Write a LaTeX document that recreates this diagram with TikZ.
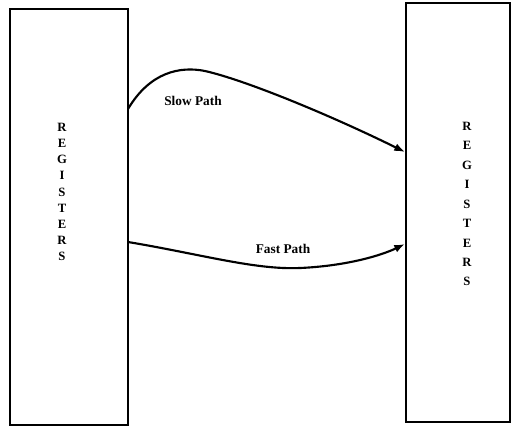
\documentclass[tikz,border=0pt]{standalone}
\usepackage{fontspec}
\setmainfont{Liberation Serif}
\usetikzlibrary{arrows.meta}
\begin{document}
\begin{tikzpicture}[x=0.75pt,y=-0.75pt,
  regbox/.style={draw,line width=1.5pt},
  conn/.style={line width=1.6pt,-{Latex[length=8pt,width=6pt]}},
  lbl/.style={font=\bfseries\fontsize{10}{12}\selectfont,inner sep=0pt},
  vletl/.style={font=\bfseries\fontsize{9.5}{12.1}\selectfont,inner sep=0pt,align=center},
  vletr/.style={font=\bfseries\fontsize{9.5}{14.6}\selectfont,inner sep=0pt,align=center}]
\useasboundingbox (0,0) rectangle (513,436);
\draw[regbox] (10,9) rectangle (128,425);
\draw[regbox] (406,3) rectangle (510,422);
\node[vletl] (lt) at (62,192) {R\\E\\G\\I\\S\\T\\E\\R\\S};
\node[vletr] (rt) at (467,204) {R\\E\\G\\I\\S\\T\\E\\R\\S};
\coordinate (s1) at (128,109);
\coordinate (s2) at (405,152);
\coordinate (f1) at (128,242);
\coordinate (f2) at (405,244);
\draw[conn] (s1) .. controls (150,72) and (180,66) .. (205,71) .. controls (245,80) and (330,115) .. (s2);
\draw[conn] (f1) .. controls (200,254) and (255,270) .. (300,268) .. controls (345,266) and (380,256) .. (f2);
\node[lbl] (slow) at (193,101) {Slow Path};
\node[lbl] (fast) at (283,249) {Fast Path};
\end{tikzpicture}
\end{document}
